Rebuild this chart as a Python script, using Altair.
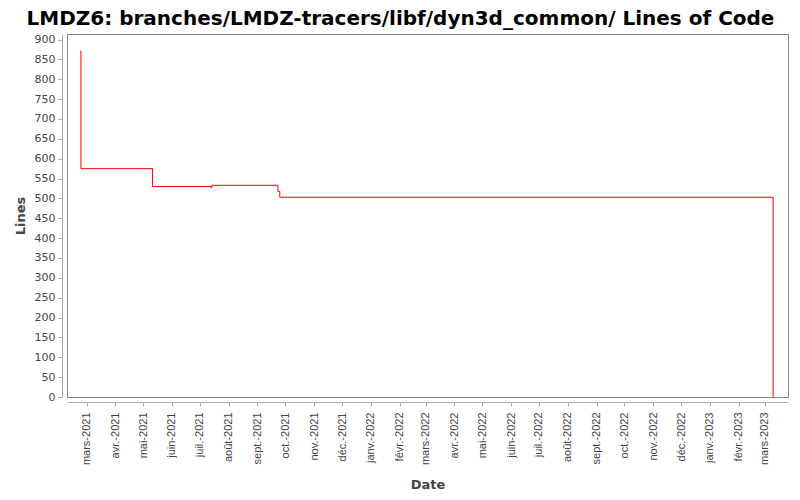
import altair as alt
import pandas as pd

# data
dates = ["2021-02-22", "2021-02-23", "2021-05-11", "2021-07-13", "2021-07-14",
         "2021-09-23", "2021-09-25", "2023-03-10"]
lines = [870, 575, 530, 527, 533, 518, 503, 0]

month_names = ["janv.", "févr.", "mars", "avr.", "mai", "juin", "juil.",
               "août", "sept.", "oct.", "nov.", "déc."]
tick_months = [(2021, m) for m in range(3, 13)] + [(2022, m) for m in range(1, 13)] + [(2023, m) for m in range(1, 4)]
y_ticks = list(range(0, 901, 50))

df = pd.DataFrame({
    "date": [d + "T00:00:00" for d in dates],
    "lines": lines,
    "i": list(range(len(dates))),
})

label_expr = ("[" + ",".join("'%s'" % m for m in month_names) + "][month(datum.value)]"
              " + '-' + year(datum.value)")

x_axis = alt.Axis(
    values=[alt.DateTime(year=y, month=m, date=1) for y, m in tick_months],
    labelExpr=label_expr,
    labelAngle=270,
    labelFont="Liberation Sans Narrow, Liberation Sans",
    labelFontSize=11,
    labelColor="#444444",
    labelPadding=6,
    tickColor="#aaaaaa",
    tickSize=4,
    domainColor="#aaaaaa",
    offset=5,
    grid=False,
    title="Date",
    titleFont="DejaVu Sans",
    titleFontSize=13,
    titleFontWeight="bold",
    titleColor="#444444",
    titlePadding=14,
)

y_axis = alt.Axis(
    values=y_ticks,
    labelFont="DejaVu Sans",
    labelFontSize=11,
    labelColor="#444444",
    labelPadding=3,
    tickColor="#aaaaaa",
    tickSize=4,
    domainColor="#aaaaaa",
    offset=5,
    grid=False,
    title="Lines",
    titleFont="DejaVu Sans",
    titleFontSize=13,
    titleFontWeight="bold",
    titleColor="#444444",
    titlePadding=7,
)

chart = alt.Chart(df).mark_line(
    interpolate="step-after", color="#ff0000", strokeWidth=1
).encode(
    x=alt.X("date:T",
            scale=alt.Scale(domain=[alt.DateTime(year=2021, month=2, date=8),
                                    alt.DateTime(year=2023, month=3, date=26)]),
            axis=x_axis),
    y=alt.Y("lines:Q", scale=alt.Scale(domain=[0, 914], nice=False), axis=y_axis),
    order=alt.Order("i:Q"),
).properties(
    width=721,
    height=363,
    autosize=alt.AutoSizeParams(type="none"),
    padding={"left": 59, "top": 26, "right": 4, "bottom": 95},
    title=alt.TitleParams(
        "LMDZ6: branches/LMDZ-tracers/libf/dyn3d_common/ Lines of Code",
        font="DejaVu Sans",
        fontSize=20,
        fontWeight="bold",
        color="#000000",
        anchor="middle",
        dx=-27,
        offset=0,
        baseline="alphabetic",
        dy=11,
    ),
).configure_view(
    stroke="#888888",
    strokeWidth=1,
)

chart.save("out.html", embed_options={"renderer": "svg", "actions": False})
